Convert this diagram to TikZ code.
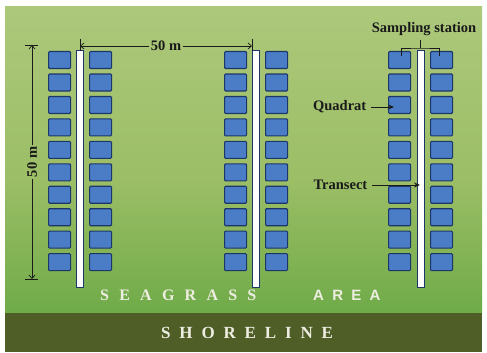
\documentclass[tikz,border=0pt]{standalone}
\usepackage{fontspec}
\setmainfont{Liberation Serif}
\newfontfamily\spacedserif[LetterSpace=64]{Liberation Serif}
\newfontfamily\spacedshore[LetterSpace=52]{Liberation Serif}
\newfontfamily\spacedsans[LetterSpace=55]{Liberation Sans}
\usetikzlibrary{arrows.meta}
\definecolor{gtop}{HTML}{BBD18E}
\definecolor{gmid}{HTML}{9CBE66}
\definecolor{glow}{HTML}{5FA43E}
\definecolor{gbot}{HTML}{3A8D2F}
\definecolor{shore}{HTML}{4F5D27}
\definecolor{qfill}{HTML}{4A7DC6}
\definecolor{qedge}{HTML}{1C366A}
\definecolor{ink}{HTML}{1A1A1A}
\definecolor{pale}{HTML}{EEEDE2}
\pgfdeclareverticalshading{seagrass}{100bp}{color(0bp)=(gbot); color(3bp)=(gbot); color(17bp)=(glow); color(47bp)=(gmid); color(100bp)=(gtop)}
\tikzset{
  quad/.style={draw=qedge, fill=qfill, line width=1.1pt, rounded corners=1pt, inner sep=0pt, minimum width=22pt, minimum height=17pt, anchor=north west},
  transect/.style={draw=qedge, fill=white, line width=1.1pt, inner sep=0pt, minimum width=7pt, minimum height=237pt, anchor=north west},
  lbl/.style={font=\bfseries\fontsize{14.5}{16}\selectfont, text=ink, inner sep=1.5pt},
  dim/.style={draw=ink, line width=0.7pt, -{Straight Barb[length=3.5pt,width=6pt]}},
  tick/.style={draw=ink, line width=0.9pt},
  pointer/.style={draw=ink, line width=0.9pt, -{Stealth[length=6pt,width=5pt]}},
  area/.style={text=pale, inner sep=0pt, anchor=west}
}
\begin{document}
\begin{tikzpicture}[x=1pt,y=-1pt]
\useasboundingbox (0,0) rectangle (487,353);
\fill[white] (0,0) rectangle (487,353);
\shade[shading=seagrass] (5,7) rectangle (482,313);
\fill[shore] (5,313) rectangle (482,352);

% quadrats
\foreach \c/\xl/\xr in {1/48/89, 2/224/265, 3/388/430} {
  \foreach \i in {0,...,9} {
    \node[quad] (q\c l\i) at (\xl, {51+22.45*\i}) {};
    \node[quad] (q\c r\i) at (\xr, {51+22.45*\i}) {};
  }
}
% transects
\node[transect] (t1) at (76,50) {};
\node[transect] (t2) at (252,50) {};
\node[transect] (t3) at (417,50) {};

% horizontal dimension
\coordinate (hl) at (80,46);
\coordinate (hr) at (252,46);
\coordinate (hlt) at (80,39);
\coordinate (hlb) at (80,51);
\coordinate (hrt) at (252,39);
\coordinate (hrb) at (252,51);
\node[lbl] (hlab) at (166,46) {50 m};
\draw[dim] (hlab.west) -- (hl);
\draw[dim] (hlab.east) -- (hr);
\draw[tick] (hlt) -- (hlb);
\draw[tick] (hrt) -- (hrb);

% vertical dimension
\coordinate (vt) at (32,45);
\coordinate (vb) at (32,279);
\coordinate (vtl) at (25,45);
\coordinate (vtr) at (38,45);
\coordinate (vbl) at (25,279);
\coordinate (vbr) at (38,279);
\node[lbl, rotate=90] (vlab) at (32,162) {50 m};
\draw[dim] (vlab.east) -- (vt);
\draw[dim] (vlab.west) -- (vb);
\draw[tick] (vtl) -- (vtr);
\draw[tick] (vbl) -- (vbr);

% sampling station
\node[lbl] (samp) at (424,29) {Sampling station};
\coordinate (bl) at (401,56);
\coordinate (br) at (439,56);
\coordinate (bc) at (420,48);
\coordinate (bct) at (420,40);
\draw[tick] (bl) |- (bc) -| (br);
\draw[tick] (bc) -- (bct);

% quadrat & transect pointers
\node[lbl, anchor=east] (qlab) at (368,107) {Quadrat};
\coordinate (qtip) at (394,107);
\draw[pointer, shorten <=3pt] (qlab.east) -- (qtip);
\node[lbl, anchor=east] (tlab) at (369,185) {Transect};
\coordinate (ttip) at (420,185);
\draw[pointer, shorten <=3pt] (tlab.east) -- (ttip);

% area labels
\node[area, font=\spacedserif\bfseries\fontsize{16}{18}\selectfont] (sea) at (100,295) {SEAGRASS};
\node[area, font=\spacedsans\bfseries\fontsize{15}{18}\selectfont] (ar) at (313,295) {AREA};
\node[area, font=\spacedshore\bfseries\fontsize{17}{20}\selectfont] (shl) at (161,333) {SHORELINE};
\end{tikzpicture}
\end{document}
